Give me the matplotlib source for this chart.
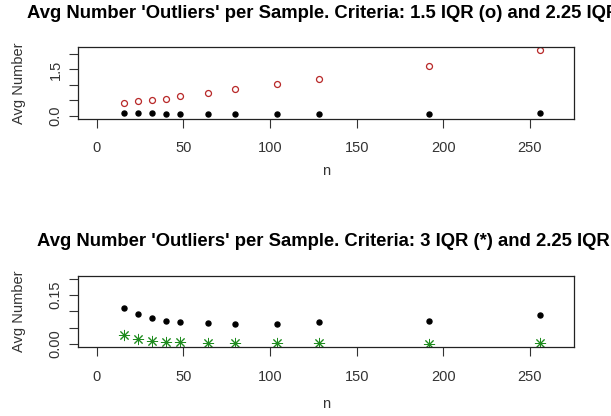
import matplotlib
matplotlib.use("Agg")
import matplotlib.pyplot as plt

n = [16, 24, 32, 40, 48, 64, 80, 104, 128, 192, 256]
iqr15 = [0.42, 0.47, 0.52, 0.55, 0.65, 0.74, 0.87, 1.02, 1.19, 1.62, 2.12]
iqr225 = [0.110, 0.092, 0.081, 0.072, 0.069, 0.066, 0.062, 0.062, 0.069, 0.072, 0.089]
iqr3 = [0.028, 0.0145, 0.010, 0.007, 0.005, 0.002, 0.003, 0.002, 0.003, 0.001, 0.002]

xticks = [0, 50, 100, 150, 200, 250]
top_yticks = [0.0, 0.5, 1.0, 1.5, 2.0]
top_ylabels = ["0.0", "", "", "1.5", ""]
bot_yticks = [0.0, 0.05, 0.10, 0.15, 0.20]
bot_ylabels = ["0.00", "", "", "0.15", ""]

plt.rcParams['font.family'] = ['Liberation Sans', 'DejaVu Sans']

W, H = 611, 416
fig = plt.figure(figsize=(W / 100, H / 100), dpi=100)

def px_axes(left, top, right, bottom):
    return fig.add_axes([left / W, 1 - bottom / H, (right - left) / W, (bottom - top) / H])

ax1 = px_axes(78, 47, 574, 119)
ax2 = px_axes(78, 275.7, 574, 347.3)

ax1.plot(n, iqr15, linestyle='none', marker='o', ms=4.3, mfc='none',
         mec='#B82828', mew=0.9)
ax1.plot(n, iqr225, linestyle='none', marker='o', ms=3.6, color='black')
ax1.set_ylim(-0.096, 2.22)
ax1.set_yticks(top_yticks)
ax1.set_yticklabels(top_ylabels)

ax2.plot(n, iqr225, linestyle='none', marker='o', ms=3.6, color='black')
ax2.plot(n, iqr3, linestyle='none', marker=(8, 2, 0), ms=8, color='#1E8B1E', mew=0.7)
ax2.set_ylim(-0.0102, 0.21)
ax2.set_yticks(bot_yticks)
ax2.set_yticklabels(bot_ylabels)

for ax in (ax1, ax2):
    ax.set_xlim(-10.8, 275.4)
    ax.set_xticks(xticks)
    ax.set_xticklabels([str(t) for t in xticks])
    for s in ax.spines.values():
        s.set_linewidth(0.9)
        s.set_color('#222222')
    ax.tick_params(axis='x', length=6.2, width=0.8, pad=10, labelsize=10.5,
                   colors='#333333')
    ax.tick_params(axis='y', length=6.2, width=0.8, pad=5, labelsize=10.5,
                   colors='#333333', labelrotation=90)
    for lab in ax.get_yticklabels():
        lab.set_va('center')

cx = (78 + 574) / 2 / W
tx = 323 / W
fig.text(tx, 1 - 14 / H, "Avg Number 'Outliers' per Sample. Criteria: 1.5 IQR (o) and 2.25 IQR",
         ha='center', va='center', fontsize=13.3, fontweight='bold')
fig.text(tx, 1 - 241 / H, "Avg Number 'Outliers' per Sample. Criteria: 3 IQR (*) and 2.25 IQR",
         ha='center', va='center', fontsize=13.3, fontweight='bold')
fig.text(cx, 1 - 171 / H, "n", ha='center', va='center', fontsize=10.5, color='#333333')
fig.text(cx, 1 - 404 / H, "n", ha='center', va='center', fontsize=10.5, color='#333333')
fig.text(19 / W, 1 - 83 / H, "Avg Number", ha='center', va='center', rotation=90,
         fontsize=10.5, color='#333333')
fig.text(19 / W, 1 - 311.5 / H, "Avg Number", ha='center', va='center', rotation=90,
         fontsize=10.5, color='#333333')

fig.savefig("out.png", dpi=100)
